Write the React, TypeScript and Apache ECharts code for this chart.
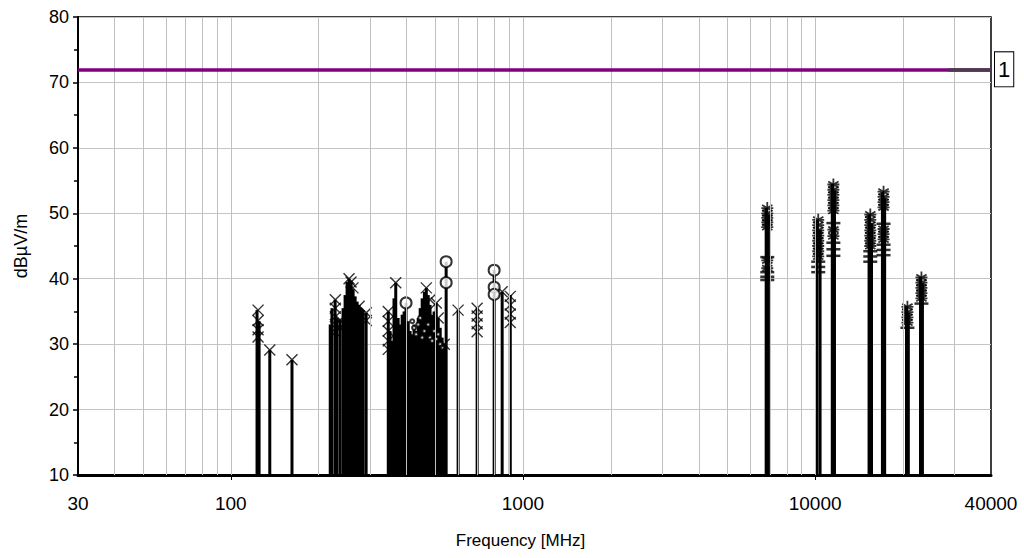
import React, { useEffect, useRef } from "react";
import * as echarts from "echarts";

// ---- data ----
const xMin = 30;
const xMax = 40000;
const yMin = 10;
const yMax = 80;
const limitLevel = 72;
const limitLabel = "1";

const xLabelValues = [30, 100, 1000, 10000, 40000];
const xTickValues = [100, 1000, 10000];
const xGridFreqs = [
  40, 50, 60, 70, 80, 90, 100,
  200, 300, 400, 500, 600, 700, 800, 900, 1000,
  2000, 3000, 4000, 5000, 6000, 7000, 8000, 9000, 10000,
  20000, 30000,
];

// vertical stick lines: [frequency MHz, level dBµV/m]
const sticksLow: [number, number][] = [
  [123, 35.2], [125, 33.5], [136, 29.1], [162, 27.6],
];
const sticksBand2: [number, number][] = [
  [219, 33], [222, 35.5], [227.6, 36.8], [231, 34], [236.7, 33.7], [242.3, 35.5],
  [246.2, 37.5], [250.1, 39.5], [254, 40], [258.2, 39.6], [262.3, 38.4],
  [266.5, 37.3], [270.7, 36.5], [275, 36], [279.4, 35.5], [283.8, 35.2], [290.6, 34.8],
];
const sticksBand3: [number, number][] = [
  [346, 35], [351, 32], [356, 30.5], [362, 37], [367, 39.4], [374, 34], [380, 33],
  [386, 34.5], [392, 35], [398, 36.3], [405, 33.5], [411, 32], [418, 31.5],
  [424, 33], [431, 32], [438, 34], [445, 35.5], [452, 37], [460, 38], [467, 38.6],
  [474, 37.5], [481, 36], [489, 34.5], [497, 35], [505, 36.3], [513, 34],
  [521, 32.5], [529, 31], [538, 30], [546, 42.6],
];
const sticksUpper: [number, number][] = [
  [600, 35.2], [697, 35.5], [797, 41.3], [849, 38], [905, 37.5],
];
const sticksGHz: [number, number][] = [
  [6800, 50.8], [6920, 49.8], [10150, 49], [10400, 47.5], [11450, 54.5], [11650, 53.5],
  [15300, 49.8], [15600, 48.5], [17000, 53.2], [17300, 52.3], [20550, 35.8],
  [20850, 34.8], [22950, 40.3], [23300, 39.3],
];

// markers
const xMarkers: [number, number][] = [
  [124, 35.2], [124, 33.6], [124, 32.2], [124, 31.1], [136, 29.1], [162, 27.6],
  [228, 36.8], [228, 35.5], [228, 34.2], [228, 33], [228, 31.8], [237, 33.7], [237, 32.5],
  [254, 40], [258, 39.5], [262, 38.6], [275, 35.8], [291, 34.8], [291, 33.6],
  [346, 35], [346, 33.5], [346, 32], [346, 30.5], [346, 29.2], [367, 39.4],
  [467, 38.6], [481, 36.8], [505, 36.3], [513, 34], [538, 30], [600, 35.2],
  [697, 35.5], [697, 34.3], [697, 33.1], [697, 31.9], [849, 38],
  [905, 37.3], [905, 36], [905, 34.6], [905, 33.3],
];
const circleMarkers: [number, number][] = [
  [398, 36.3], [546, 42.6], [546, 39.4], [797, 41.3], [797, 38.7], [797, 37.6],
];
const dotMarkers: [number, number][] = [
  [418, 33.5], [424, 32.5], [431, 31.5], [438, 33], [445, 34], [452, 31], [460, 32],
  [474, 33], [481, 31], [489, 30.5], [497, 32], [505, 30.8], [513, 31.5], [521, 30], [529, 29.5],
];
const starMarkers: [number, number][] = [
  [6860, 50.8], [6860, 50.0], [6860, 49.3], [6860, 48.6], [6860, 47.9], [6860, 42.8], [6860, 41.6],
  [10250, 49.0], [10250, 48.2], [10250, 47.4], [10250, 46.6], [10250, 45.8], [10250, 45.0], [10250, 44.2], [10250, 43.4],
  [11550, 54.4], [11550, 53.6], [11550, 52.8], [11550, 52.0], [11550, 51.2], [11550, 50.4], [11550, 47.5], [11550, 46.5],
  [15450, 49.8], [15450, 49.0], [15450, 48.2], [15450, 47.4], [15450, 46.6], [15450, 45.8], [15450, 45.0],
  [17150, 53.3], [17150, 52.5], [17150, 51.7], [17150, 50.9], [17150, 47.6], [17150, 46.8], [17150, 46.0],
  [20700, 35.7], [20700, 34.9], [20700, 34.1], [20700, 33.3],
  [23120, 40.2], [23120, 39.4], [23120, 38.6], [23120, 37.8], [23120, 37.0],
];
const dashMarkers: [number, number][] = [
  [6860, 43.3], [6860, 41.0], [6860, 40.3], [6860, 39.8],
  [10250, 42.6], [10250, 41.8], [10250, 41.0],
  [11550, 48.5], [11550, 45.5], [11550, 44.5], [11550, 43.5],
  [15450, 44.2], [15450, 43.4], [15450, 42.6],
  [17150, 48.4], [17150, 45.2], [17150, 44.4], [17150, 43.6],
  [20700, 32.5], [23120, 36.2],
];

const FONT = "'Liberation Sans', Arial, sans-serif";

export default function App() {
  const ref = useRef<HTMLDivElement>(null);

  useEffect(() => {
    if (!ref.current) return;
    const chart = echarts.init(ref.current, null, { renderer: "svg" });
    const allSticks = [...sticksLow, ...sticksBand2, ...sticksBand3, ...sticksUpper, ...sticksGHz];

    const option: any = {
      animation: false,
      backgroundColor: "#fff",
      grid: {
        left: 78, right: 33, top: 17, bottom: 83,
        show: true, borderColor: "#000", borderWidth: 1.5, backgroundColor: "transparent",
      },
      xAxis: {
        type: "log",
        logBase: 10,
        min: xMin,
        max: xMax,
        name: "Frequency [MHz]",
        nameLocation: "middle",
        nameGap: 57,
        nameTextStyle: { color: "#000", fontSize: 17, fontFamily: FONT, padding: [0, 28, 0, 0] },
        axisLine: { show: true, lineStyle: { color: "#000", width: 3 } },
        axisTick: { show: true, customValues: xTickValues, length: 5, lineStyle: { color: "#000", width: 1 } },
        axisLabel: {
          customValues: xLabelValues,
          color: "#000",
          fontSize: 19,
          fontFamily: FONT,
          margin: 19,
          formatter: (v: number) => String(Math.round(v)),
        },
        splitLine: { show: false },
        minorTick: { show: false },
        minorSplitLine: { show: false },
      },
      yAxis: {
        type: "value",
        min: yMin,
        max: yMax,
        interval: 10,
        name: "dBµV/m",
        nameLocation: "middle",
        nameGap: 48,
        nameRotate: 90,
        nameTextStyle: { color: "#000", fontSize: 18, fontFamily: FONT },
        axisLine: { show: true, lineStyle: { color: "#000", width: 2 } },
        axisTick: { show: true, length: 5, lineStyle: { color: "#000", width: 1.5 } },
        minorTick: { show: true, splitNumber: 2, length: 4, lineStyle: { color: "#000", width: 1.5 } },
        axisLabel: { color: "#000", fontSize: 18, fontFamily: FONT, margin: 9 },
        splitLine: { show: true, lineStyle: { color: "#c4c4c4", width: 1 } },
      },
      series: [
        {
          type: "line",
          data: [],
          z: 1,
          silent: true,
          markLine: {
            silent: true,
            symbol: ["none", "none"],
            label: { show: false },
            lineStyle: { color: "#c0c0c0", width: 1, type: "solid" },
            data: xGridFreqs.map((f) => ({ xAxis: f })),
          },
        },
        {
          type: "custom",
          z: 2,
          silent: true,
          data: allSticks,
          encode: { x: 0, y: 1 },
          renderItem: (_params: any, api: any) => {
            const f = api.value(0);
            const v = api.value(1);
            const top = api.coord([f, v]);
            const base = api.coord([f, yMin]);
            return {
              type: "line",
              shape: { x1: top[0], y1: base[1], x2: top[0], y2: top[1] },
              style: { stroke: "#000", lineWidth: 3 },
            };
          },
        },
        {
          type: "scatter",
          z: 3,
          data: dotMarkers,
          symbol: "emptyCircle",
          symbolSize: 4,
          itemStyle: { color: "#000", borderColor: "#000", borderWidth: 1 },
        },
        {
          type: "scatter",
          z: 3,
          data: xMarkers,
          symbol: "path://M0 0L10 10M10 0L0 10",
          symbolSize: 11,
          itemStyle: { color: "transparent", borderColor: "#000", borderWidth: 1.4 },
        },
        {
          type: "scatter",
          z: 3,
          data: circleMarkers,
          symbol: "emptyCircle",
          symbolSize: 11,
          itemStyle: { color: "#000", borderColor: "#000", borderWidth: 1.6 },
        },
        {
          type: "scatter",
          z: 3,
          data: dashMarkers,
          symbol: "rect",
          symbolSize: [14, 2.5],
          itemStyle: { color: "#000" },
        },
        {
          type: "scatter",
          z: 3,
          data: starMarkers,
          symbol: "path://M5 0L5 10M0.7 2.5L9.3 7.5M9.3 2.5L0.7 7.5M0 5L10 5",
          symbolSize: 12,
          itemStyle: { color: "transparent", borderColor: "#000", borderWidth: 1.8 },
        },
        {
          type: "line",
          data: [],
          z: 4,
          markLine: {
            silent: true,
            symbol: ["none", "none"],
            data: [
              {
                yAxis: limitLevel,
                lineStyle: { color: "#800080", width: 3.5, type: "solid" },
                label: {
                  show: true,
                  position: "end",
                  formatter: limitLabel,
                  color: "#000",
                  fontSize: 22,
                  fontFamily: FONT,
                  borderColor: "#000",
                  borderWidth: 1,
                  backgroundColor: "#fff",
                  padding: [7, 3, 5, 3],
                  distance: 4,
                },
              },
              [
                { coord: [28600, limitLevel], lineStyle: { color: "#4d3a4d", width: 3.5, type: "solid" }, label: { show: false } },
                { coord: [xMax, limitLevel] },
              ],
            ],
          },
        },
      ],
    };
    chart.setOption(option);
    return () => chart.dispose();
  }, []);

  return (
    <div
      ref={ref}
      style={{ position: "fixed", left: 0, top: 0, width: 1024, height: 558, background: "#fff" }}
    />
  );
}
